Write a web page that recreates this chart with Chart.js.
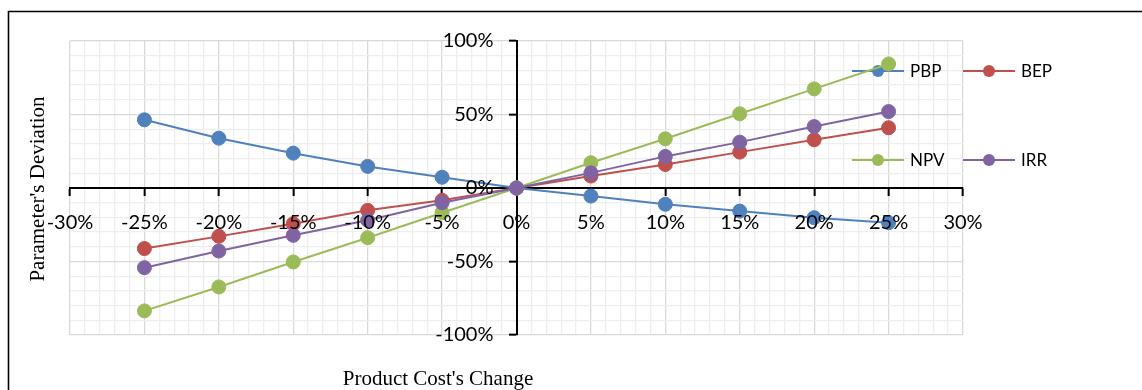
<!DOCTYPE html>
<html>
<head>
<meta charset="utf-8">
<script src="https://cdn.jsdelivr.net/npm/chart.js@4"></script>
<style>
  html, body { margin: 0; padding: 0; background: #ffffff; }
  #wrap { position: relative; width: 1142px; height: 390px; }
  canvas { display: block; }
</style>
</head>
<body>
<div id="wrap"><canvas id="chart" width="1142" height="390"></canvas></div>
<script>
// Sensitivity of the project parameters to a change in product cost (%)
const costChange = [-25, -20, -15, -10, -5, 0, 5, 10, 15, 20, 25];
const pbp = [46.4, 33.9, 23.7, 14.7, 7.3, 0, -5.5, -11.1, -15.7, -20.2, -23.6];
const bep = [-41.2, -32.9, -24.3, -15.2, -8.4, 0, 8.1, 16.0, 24.4, 32.8, 41.0];
const npv = [-83.6, -67.3, -50.3, -33.8, -16.8, 0, 17.2, 33.5, 50.5, 67.4, 84.4];
const irr = [-54.2, -42.9, -32.2, -22.0, -10.0, 0, 10.3, 21.5, 31.2, 41.8, 52.0];

const seriesNames = ['PBP', 'BEP', 'NPV', 'IRR'];
const seriesValues = [pbp, bep, npv, irr];
const seriesColors = ['#4f81bd', '#c0504d', '#9bbb59', '#8064a2'];

const xTitle = "Product Cost's Change";
const yTitle = "Parameter's Deviation";

const X_MIN = -30, X_MAX = 30;
const Y_MIN = -100, Y_MAX = 100;

const tickFont = { family: 'Lato', size: 20 };
const MAJOR_GRID = '#d9d9d9';
const MINOR_GRID = '#eeeeee';
const Y_LABEL_GAP = 23; // space between the value labels and the crossing y axis

function pct(v) { return Math.round(v) + '%'; }

const datasets = seriesNames.map((name, i) => ({
  label: name,
  data: costChange.map((c, j) => ({ x: c, y: seriesValues[i][j] })),
  xAxisID: 'x',
  yAxisID: 'y',
  borderColor: seriesColors[i],
  backgroundColor: seriesColors[i],
  pointBackgroundColor: seriesColors[i],
  pointBorderColor: seriesColors[i],
  pointBorderWidth: 1,
  pointRadius: 7,
  pointHoverRadius: 7,
  borderWidth: 2,
  tension: 0,
  // later series are painted above earlier ones
  order: seriesNames.length - i
}));

// Frame, axis titles, two-row legend and label offset for the crossing y axis
const decorations = {
  id: 'decorations',
  beforeDraw(chart) {
    const ys = chart.scales.yLabels;
    if (!ys._gapPatched) {
      const orig = ys._computeLabelItems.bind(ys);
      ys._computeLabelItems = (area) => orig(area).map((it) => {
        it.options.translation = [it.options.translation[0] - Y_LABEL_GAP, it.options.translation[1]];
        return it;
      });
      ys._gapPatched = true;
    }
    ys._labelItems = null;

    const ctx = chart.ctx;
    ctx.save();
    ctx.strokeStyle = '#000000';
    ctx.lineWidth = 1.6;
    ctx.beginPath();
    ctx.moveTo(8.5, 400);
    ctx.lineTo(8.5, 11.5);
    ctx.lineTo(1150, 11.5);
    ctx.stroke();
    ctx.restore();
  },
  beforeDatasetsDraw(chart) {
    const ctx = chart.ctx;
    const area = chart.chartArea;
    ctx.save();
    const cols = [area.right - 111, area.right];
    const rows = [area.top + 30, area.top + 119];
    chart.data.datasets.forEach((ds, i) => {
      const x0 = cols[i % 2];
      const y = rows[Math.floor(i / 2)];
      ctx.strokeStyle = ds.borderColor;
      ctx.lineWidth = 2;
      ctx.beginPath();
      ctx.moveTo(x0, y);
      ctx.lineTo(x0 + 52, y);
      ctx.stroke();
      ctx.fillStyle = ds.borderColor;
      ctx.beginPath();
      ctx.arc(x0 + 26, y, 6, 0, Math.PI * 2);
      ctx.fill();
      ctx.fillStyle = '#000000';
      ctx.font = '17px Lato';
      ctx.textAlign = 'left';
      ctx.textBaseline = 'middle';
      ctx.fillText(ds.label, x0 + 58, y + 1);
    });
    ctx.restore();
  },
  afterDraw(chart) {
    const ctx = chart.ctx;
    ctx.save();
    ctx.fillStyle = '#000000';
    ctx.font = '21px "Liberation Serif"';
    ctx.textAlign = 'center';
    ctx.textBaseline = 'middle';
    ctx.fillText(xTitle, 438, 379);
    ctx.translate(38.5, 189);
    ctx.rotate(-Math.PI / 2);
    ctx.fillText(yTitle, 0, 0);
    ctx.restore();
  }
};

// Grid, axis lines and tick marks sit under the series; the value labels sit above them
new Chart(document.getElementById('chart'), {
  type: 'line',
  data: { datasets },
  plugins: [decorations],
  options: {
    responsive: false,
    animation: false,
    events: [],
    layout: { padding: { left: 70, top: 41, right: 179, bottom: 55 } },
    plugins: {
      legend: { display: false },
      title: { display: false },
      tooltip: { enabled: false }
    },
    scales: {
      x: {
        type: 'linear',
        position: { y: 0 },
        min: X_MIN,
        max: X_MAX,
        ticks: {
          stepSize: 1,
          autoSkip: false,
          maxRotation: 0,
          font: tickFont,
          callback: () => ''
        },
        grid: {
          color: (c) => (c.tick && c.tick.value % 5 === 0 ? MAJOR_GRID : MINOR_GRID),
          lineWidth: 1.3,
          tickLength: 7,
          tickColor: (c) => (c.tick && c.tick.value % 5 === 0 ? '#000000' : 'rgba(0,0,0,0)'),
          tickWidth: 2
        },
        border: { display: true, color: '#000000', width: 2 }
      },
      xLabels: {
        type: 'linear',
        axis: 'x',
        position: { y: 0 },
        min: X_MIN,
        max: X_MAX,
        ticks: {
          z: 1,
          stepSize: 5,
          autoSkip: false,
          maxRotation: 0,
          minRotation: 0,
          color: '#000000',
          font: tickFont,
          padding: 16,
          callback: (v) => pct(v)
        },
        grid: { display: false, drawTicks: true, tickLength: 7 },
        border: { display: false }
      },
      y: {
        type: 'linear',
        position: { x: 0 },
        min: Y_MIN,
        max: Y_MAX,
        ticks: {
          stepSize: 10,
          autoSkip: false,
          font: tickFont,
          callback: () => ''
        },
        grid: {
          color: (c) => (c.tick && c.tick.value % 50 === 0 ? MAJOR_GRID : MINOR_GRID),
          lineWidth: 1.3,
          tickLength: 7,
          tickColor: (c) => (c.tick && c.tick.value % 50 === 0 ? '#000000' : 'rgba(0,0,0,0)'),
          tickWidth: 2
        },
        border: { display: true, color: '#000000', width: 2 }
      },
      yLabels: {
        type: 'linear',
        axis: 'y',
        position: { x: 0 },
        min: Y_MIN,
        max: Y_MAX,
        ticks: {
          z: 1,
          stepSize: 50,
          autoSkip: false,
          color: '#000000',
          font: tickFont,
          callback: (v) => pct(v)
        },
        grid: { display: false, drawTicks: true, tickLength: 7 },
        border: { display: false }
      }
    }
  }
});
</script>
</body>
</html>
